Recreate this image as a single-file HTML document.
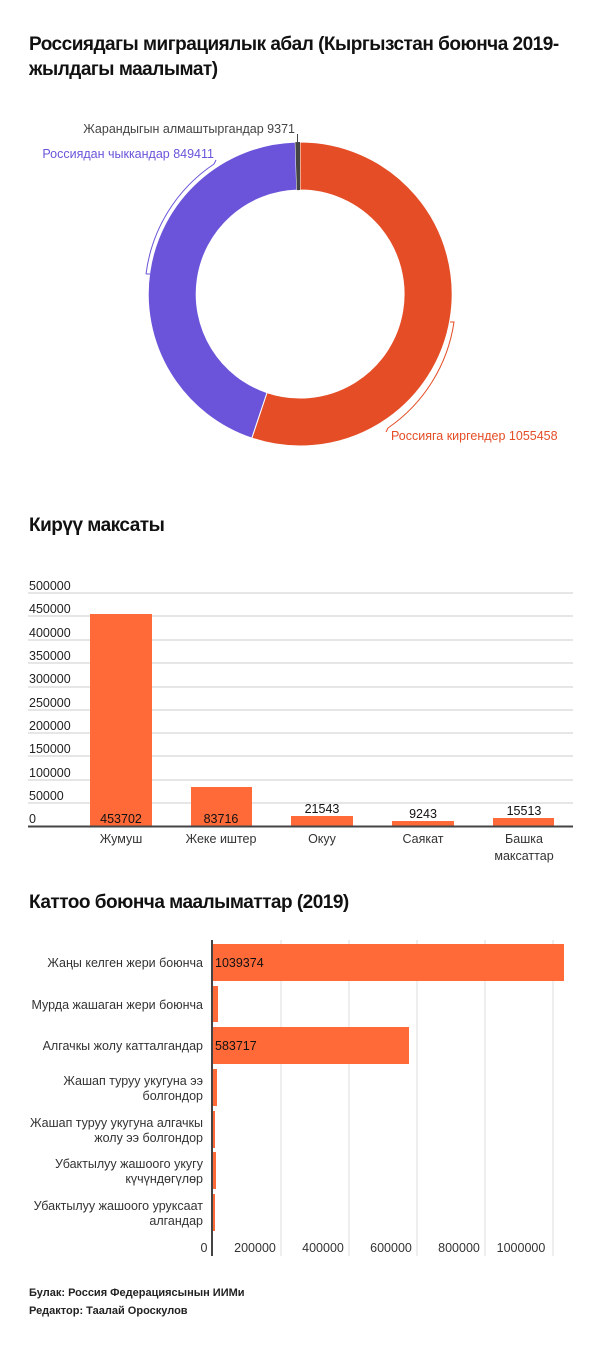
<!DOCTYPE html>
<html><head><meta charset="utf-8"><style>
body{margin:0;background:#fff;font-family:"Liberation Sans",sans-serif;}
.wrap{position:relative;width:600px;height:1347px;overflow:hidden;}
.t{position:absolute;left:29px;font-weight:bold;font-size:19px;color:#111;line-height:25px;letter-spacing:-0.5px;}
svg{position:absolute;left:0;top:0;}
</style></head><body><div class="wrap">
<div class="t" style="top:32px">Россиядагы миграциялык абал (Кыргызстан боюнча 2019-<br>жылдагы маалымат)</div>
<div class="t" style="top:513px">Кирүү максаты</div>
<div class="t" style="top:890px">Каттоо боюнча маалыматтар (2019)</div>
<svg width="600" height="1347" font-family="Liberation Sans, sans-serif">
<path d="M300,142 A152,152 0 1 1 251.8,438.1 L267,392.6 A104,104 0 1 0 300,190 Z" fill="#e44d26" stroke="#fff" stroke-width="1"/>
<path d="M251.8,438.1 A152,152 0 0 1 295.3,142.1 L296.8,190.1 A104,104 0 0 0 267,392.6 Z" fill="#6b54d9" stroke="#fff" stroke-width="1"/>
<path d="M295.3,142.1 A152,152 0 0 1 300,142 L300,190 A104,104 0 0 0 296.8,190.1 Z" fill="#444"/>
<path d="M146,274 A156,156 0 0 1 214,164 L216,160" fill="none" stroke="#6b54d9" stroke-width="1"/>
<path d="M150,274 L146,274" stroke="#6b54d9"/>
<path d="M450,322 L454,322 A156,156 0 0 1 388,428 L386,432" fill="none" stroke="#e44d26" stroke-width="1"/>
<line x1="297.5" y1="134" x2="297.5" y2="142" stroke="#444"/>
<text x="295" y="133" font-size="12.5" fill="#444" text-anchor="end">Жарандыгын алмаштыргандар 9371</text>
<text x="214" y="158" font-size="12.5" fill="#6b54d9" text-anchor="end">Россиядан чыккандар 849411</text>
<text x="391" y="440" font-size="12.5" fill="#e44d26">Россияга киргендер 1055458</text>
<g stroke="#ccc" stroke-width="1">
<line x1="28" x2="573" y1="593" y2="593"/><line x1="28" x2="573" y1="616" y2="616"/><line x1="28" x2="573" y1="640" y2="640"/><line x1="28" x2="573" y1="663" y2="663"/><line x1="28" x2="573" y1="687" y2="687"/><line x1="28" x2="573" y1="710" y2="710"/><line x1="28" x2="573" y1="733" y2="733"/><line x1="28" x2="573" y1="756" y2="756"/><line x1="28" x2="573" y1="780" y2="780"/><line x1="28" x2="573" y1="803" y2="803"/>
</g>
<g fill="#ff6a38">
<rect x="90" y="614" width="62" height="212"/><rect x="191" y="787" width="61" height="39"/><rect x="291" y="816" width="62" height="10"/><rect x="392" y="821" width="62" height="5"/><rect x="493" y="818" width="61" height="8"/>
</g>
<line x1="28" x2="573" y1="826.5" y2="826.5" stroke="#444" stroke-width="2"/>
<g font-size="12.5" fill="#222">
<text x="29" y="590">500000</text><text x="29" y="613">450000</text><text x="29" y="637">400000</text><text x="29" y="660">350000</text><text x="29" y="683">300000</text><text x="29" y="707">250000</text><text x="29" y="730">200000</text><text x="29" y="753">150000</text><text x="29" y="777">100000</text><text x="29" y="800">50000</text><text x="29" y="823">0</text>
</g>
<g font-size="12.5" fill="#111" text-anchor="middle">
<text x="121" y="823">453702</text><text x="221" y="823">83716</text><text x="322" y="813">21543</text><text x="423" y="818">9243</text><text x="524" y="815">15513</text>
</g>
<g font-size="12.5" fill="#333" text-anchor="middle">
<text x="121" y="843">Жумуш</text><text x="221" y="843">Жеке иштер</text><text x="322" y="843">Окуу</text><text x="423" y="843">Саякат</text><text x="524" y="843">Башка</text><text x="524" y="860">максаттар</text>
</g>
<g stroke="#ddd"><line x1="281" x2="281" y1="940" y2="1256"/><line x1="349" x2="349" y1="940" y2="1256"/><line x1="417" x2="417" y1="940" y2="1256"/><line x1="485" x2="485" y1="940" y2="1256"/><line x1="553" x2="553" y1="940" y2="1256"/></g>
<g fill="#ff6a38">
<rect x="212" y="944" width="352" height="37"/><rect x="212" y="986" width="6" height="36"/><rect x="212" y="1027" width="197" height="37"/><rect x="212" y="1069" width="5" height="37"/><rect x="212" y="1111" width="3" height="37"/><rect x="212" y="1152" width="4" height="37"/><rect x="212" y="1194" width="3" height="37"/>
</g>
<line x1="212" x2="212" y1="940" y2="1256" stroke="#444" stroke-width="2"/>
<g font-size="12.5" fill="#111"><text x="215" y="967">1039374</text><text x="215" y="1050">583717</text></g>
<g font-size="12.5" fill="#333" text-anchor="end">
<text x="203" y="967">Жаңы келген жери боюнча</text>
<text x="203" y="1009">Мурда жашаган жери боюнча</text>
<text x="203" y="1050">Алгачкы жолу катталгандар</text>
<text x="203" y="1085">Жашап туруу укугуна ээ</text><text x="203" y="1100">болгондор</text>
<text x="203" y="1127">Жашап туруу укугуна алгачкы</text><text x="203" y="1142">жолу ээ болгондор</text>
<text x="203" y="1168">Убактылуу жашоого укугу</text><text x="203" y="1183">күчүндөгүлөр</text>
<text x="203" y="1210">Убактылуу жашоого уруксаат</text><text x="203" y="1225">алгандар</text>
</g>
<g font-size="12.5" fill="#333" text-anchor="middle">
<text x="204" y="1252">0</text><text x="255" y="1252">200000</text><text x="323" y="1252">400000</text><text x="391" y="1252">600000</text><text x="459" y="1252">800000</text><text x="521" y="1252">1000000</text>
</g>
<g font-size="11" font-weight="bold" fill="#222">
<text x="29" y="1296">Булак: Россия Федерациясынын ИИМи</text>
<text x="29" y="1314">Редактор: Таалай Ороскулов</text>
</g>
</svg>
</div></body></html>
